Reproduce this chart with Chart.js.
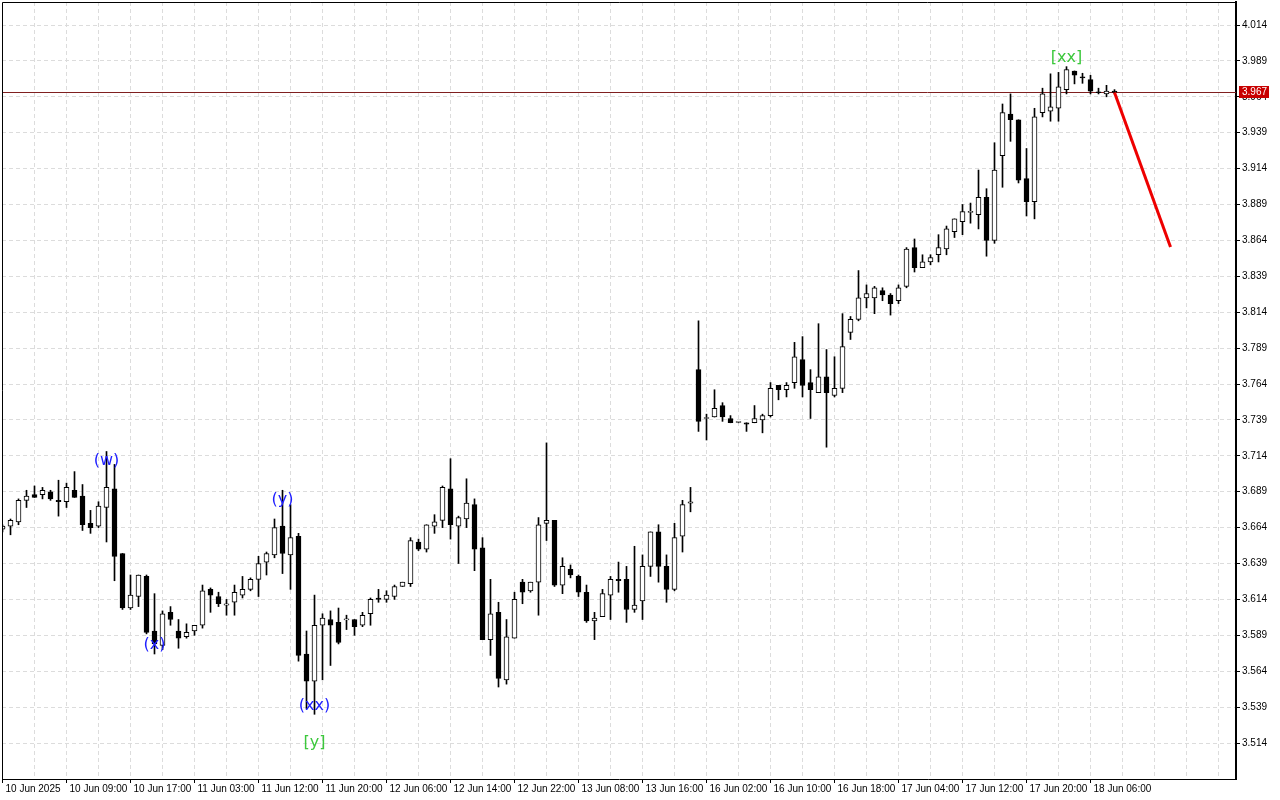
<!DOCTYPE html>
<html>
<head>
<meta charset="utf-8">
<script src="https://cdn.jsdelivr.net/npm/chart.js@4.4.1/dist/chart.umd.min.js"></script>
<style>
html, body { margin: 0; padding: 0; background: #fff; }
canvas { display: block; }
</style>
</head>
<body>
<canvas id="grafico" width="1280" height="800"></canvas>
<script>
// Velas de 1h (O / H / L / C)
const abertura = [
  3.663, 3.665, 3.668, 3.683, 3.687, 3.687, 3.689, 3.683, 3.682, 3.690,
  3.686, 3.667, 3.665, 3.678, 3.691, 3.646, 3.608, 3.616, 3.630, 3.592,
  3.582, 3.605, 3.592, 3.588, 3.592, 3.596, 3.621, 3.616, 3.610, 3.612,
  3.617, 3.621, 3.628, 3.640, 3.645, 3.665, 3.645, 3.658, 3.576, 3.557,
  3.596, 3.600, 3.598, 3.5998, 3.600, 3.596, 3.604, 3.615, 3.614, 3.616,
  3.623, 3.625, 3.654, 3.649, 3.665, 3.669, 3.691, 3.665, 3.670, 3.680,
  3.650, 3.586, 3.605, 3.558, 3.587, 3.626, 3.620, 3.626, 3.667, 3.669,
  3.624, 3.635, 3.630, 3.619, 3.599, 3.602, 3.617, 3.628, 3.628, 3.607,
  3.613, 3.637, 3.661, 3.637, 3.621, 3.658, 3.681, 3.774, 3.740, 3.741,
  3.749, 3.740, 3.7372, 3.737, 3.737, 3.739, 3.742, 3.763, 3.760, 3.765,
  3.781, 3.765, 3.758, 3.769, 3.756, 3.761, 3.800, 3.809, 3.824, 3.824,
  3.829, 3.826, 3.822, 3.832, 3.859, 3.845, 3.849, 3.854, 3.858, 3.870,
  3.877, 3.8835, 3.882, 3.894, 3.864, 3.923, 3.952, 3.948, 3.907, 3.891,
  3.953, 3.954, 3.956, 3.969, 3.982, 3.9774, 3.976, 3.967, 3.966, 3.968
];
const maxima = [
  3.666, 3.670, 3.684, 3.690, 3.693, 3.692, 3.690, 3.697, 3.695, 3.703,
  3.694, 3.676, 3.682, 3.717, 3.708, 3.646, 3.631, 3.631, 3.631, 3.618,
  3.606, 3.609, 3.600, 3.597, 3.596, 3.624, 3.622, 3.619, 3.614, 3.624,
  3.630, 3.629, 3.644, 3.647, 3.670, 3.690, 3.680, 3.660, 3.592, 3.617,
  3.604, 3.606, 3.608, 3.603, 3.600, 3.605, 3.615, 3.621, 3.620, 3.624,
  3.626, 3.657, 3.656, 3.666, 3.673, 3.693, 3.712, 3.672, 3.698, 3.684,
  3.657, 3.628, 3.612, 3.600, 3.619, 3.628, 3.626, 3.671, 3.723, 3.669,
  3.643, 3.638, 3.631, 3.624, 3.605, 3.621, 3.630, 3.640, 3.637, 3.651,
  3.645, 3.661, 3.666, 3.645, 3.667, 3.683, 3.692, 3.808, 3.743, 3.760,
  3.751, 3.742, 3.7374, 3.737, 3.749, 3.743, 3.765, 3.763, 3.765, 3.793,
  3.797, 3.774, 3.806, 3.788, 3.783, 3.813, 3.811, 3.843, 3.833, 3.832,
  3.831, 3.827, 3.833, 3.859, 3.865, 3.854, 3.854, 3.868, 3.874, 3.879,
  3.889, 3.890, 3.913, 3.900, 3.932, 3.959, 3.966, 3.948, 3.928, 3.956,
  3.970, 3.980, 3.981, 3.985, 3.982, 3.9804, 3.979, 3.970, 3.972, 3.969
];
const minima = [
  3.661, 3.659, 3.666, 3.678, 3.685, 3.684, 3.683, 3.672, 3.678, 3.685,
  3.662, 3.660, 3.664, 3.654, 3.627, 3.607, 3.607, 3.609, 3.590, 3.576,
  3.579, 3.596, 3.580, 3.587, 3.589, 3.594, 3.605, 3.609, 3.603, 3.603,
  3.615, 3.620, 3.616, 3.631, 3.643, 3.632, 3.621, 3.571, 3.538, 3.534,
  3.558, 3.568, 3.583, 3.593, 3.589, 3.595, 3.596, 3.612, 3.612, 3.614,
  3.623, 3.623, 3.648, 3.647, 3.660, 3.664, 3.656, 3.639, 3.664, 3.634,
  3.586, 3.575, 3.553, 3.555, 3.587, 3.611, 3.619, 3.603, 3.655, 3.623,
  3.618, 3.629, 3.616, 3.598, 3.586, 3.602, 3.600, 3.619, 3.598, 3.605,
  3.600, 3.630, 3.626, 3.612, 3.620, 3.647, 3.675, 3.731, 3.725, 3.741,
  3.738, 3.737, 3.7370, 3.731, 3.737, 3.730, 3.741, 3.753, 3.755, 3.761,
  3.755, 3.740, 3.758, 3.720, 3.755, 3.758, 3.795, 3.808, 3.817, 3.813,
  3.822, 3.812, 3.820, 3.831, 3.842, 3.845, 3.847, 3.849, 3.854, 3.866,
  3.868, 3.876, 3.872, 3.853, 3.862, 3.901, 3.933, 3.904, 3.881, 3.879,
  3.950, 3.947, 3.947, 3.966, 3.973, 3.9734, 3.966, 3.966, 3.964, 3.966
];
const fechamento = [
  3.665, 3.669, 3.683, 3.686, 3.685, 3.690, 3.684, 3.682, 3.692, 3.685,
  3.666, 3.664, 3.679, 3.692, 3.644, 3.608, 3.617, 3.631, 3.591, 3.583,
  3.604, 3.600, 3.587, 3.591, 3.596, 3.620, 3.617, 3.611, 3.611, 3.619,
  3.621, 3.628, 3.639, 3.646, 3.664, 3.646, 3.657, 3.575, 3.557, 3.596,
  3.601, 3.596, 3.584, 3.6002, 3.595, 3.603, 3.614, 3.614, 3.617, 3.623,
  3.626, 3.655, 3.649, 3.666, 3.668, 3.692, 3.666, 3.671, 3.681, 3.649,
  3.586, 3.604, 3.559, 3.588, 3.614, 3.619, 3.626, 3.666, 3.669, 3.624,
  3.637, 3.631, 3.619, 3.599, 3.601, 3.618, 3.628, 3.627, 3.607, 3.610,
  3.637, 3.661, 3.637, 3.621, 3.657, 3.680, 3.682, 3.738, 3.7401, 3.747,
  3.741, 3.737, 3.7372, 3.736, 3.740, 3.742, 3.761, 3.760, 3.763, 3.783,
  3.763, 3.760, 3.769, 3.758, 3.761, 3.790, 3.809, 3.824, 3.827, 3.831,
  3.826, 3.820, 3.831, 3.858, 3.845, 3.849, 3.852, 3.859, 3.872, 3.879,
  3.884, 3.8837, 3.894, 3.864, 3.913, 3.953, 3.948, 3.906, 3.891, 3.950,
  3.966, 3.957, 3.971, 3.983, 3.979, 3.9772, 3.968, 3.9668, 3.968, 3.967
];

// eixo de tempo: um rótulo a cada 8 velas
const rotulosTempo = [
  '10 Jun 2025', '10 Jun 09:00', '10 Jun 17:00', '11 Jun 03:00', '11 Jun 12:00',
  '11 Jun 20:00', '12 Jun 06:00', '12 Jun 14:00', '12 Jun 22:00', '13 Jun 08:00',
  '13 Jun 16:00', '16 Jun 02:00', '16 Jun 10:00', '16 Jun 18:00', '17 Jun 04:00',
  '17 Jun 12:00', '17 Jun 20:00', '18 Jun 06:00'
];
const precosEixo = [
  4.014, 3.989, 3.964, 3.939, 3.914, 3.889, 3.864, 3.839, 3.814, 3.789, 3.764,
  3.739, 3.714, 3.689, 3.664, 3.639, 3.614, 3.589, 3.564, 3.539, 3.514
];

// marcações de onda (índice da vela, preço)
const ondasTexto = ['(w)', '(x)', '(y)', '(xx)', '[y]', '[xx]'];
const ondasIndice = [13, 19, 35, 39, 39, 133];
const ondasPreco = [3.7104, 3.5823, 3.6833, 3.5398, 3.5140, 3.9910];

// projeção e preço atual
const projecaoIndice = [139, 146];
const projecaoPreco = [3.967, 3.8594];
const precoAtual = 3.967;

const pavios = abertura.map((o, i) => ({ x: i, y: [minima[i], maxima[i]] }));
const corpos = abertura.map((o, i) => ({ x: i, y: [o, fechamento[i]] }));
const corCorpo = abertura.map((o, i) => fechamento[i] >= o ? '#ffffff' : '#000000');
const projecao = projecaoIndice.map((v, k) => ({ x: v, y: projecaoPreco[k] }));
const gradeX = [];
for (let i = 0; i <= 152; i += 4) gradeX.push(i);

const fonteEixo = { family: 'Liberation Sans', size: 10 };
const temRotulo = v => v % 8 === 0 && v / 8 < rotulosTempo.length;

// linha do preço, moldura, ondas e etiqueta do preço no eixo
const pluginExtras = {
  id: 'extras',
  beforeDatasetsDraw(chart) {
    const { ctx, chartArea: a, scales: { y } } = chart;
    const py = Math.round(y.getPixelForValue(precoAtual)) + 0.5;
    ctx.save();
    ctx.strokeStyle = '#802020';
    ctx.lineWidth = 1;
    ctx.beginPath();
    ctx.moveTo(a.left, py);
    ctx.lineTo(a.right, py);
    ctx.stroke();
    ctx.restore();
  },
  afterDraw(chart) {
    const { ctx, chartArea: a, scales: { x, y } } = chart;
    ctx.save();
    ctx.strokeStyle = '#000';
    ctx.lineWidth = 1;
    ctx.beginPath();
    ctx.moveTo(a.left + 0.5, a.bottom);
    ctx.lineTo(a.left + 0.5, a.top + 0.5);
    ctx.lineTo(a.right, a.top + 0.5);
    ctx.stroke();

    ctx.font = '16px "DejaVu Sans"';
    ctx.textAlign = 'center';
    ctx.textBaseline = 'middle';
    ondasTexto.forEach((t, k) => {
      ctx.fillStyle = t.startsWith('[') ? '#3cc83c' : '#2020ff';
      ctx.fillText(t, x.getPixelForValue(ondasIndice[k]), y.getPixelForValue(ondasPreco[k]));
    });

    const py = Math.round(y.getPixelForValue(precoAtual));
    ctx.fillStyle = '#c80000';
    ctx.fillRect(y.left + 3, py - 6, 30, 12);
    ctx.fillStyle = '#fff';
    ctx.font = '10px "Liberation Sans"';
    ctx.textAlign = 'left';
    ctx.fillText(precoAtual.toFixed(3), y.left + 6, py + 0.5);
    ctx.restore();
  }
};

new Chart(document.getElementById('grafico'), {
  type: 'bar',
  data: {
    datasets: [
      { type: 'bar', data: pavios, backgroundColor: '#000', barThickness: 1, grouped: false, order: 3 },
      { type: 'bar', data: corpos, backgroundColor: corCorpo, borderColor: '#000', borderWidth: 1,
        borderSkipped: false, barThickness: 5, minBarLength: 1, grouped: false, order: 2 },
      { type: 'line', data: projecao, borderColor: '#ee0000', borderWidth: 3, pointRadius: 0, order: 1 }
    ]
  },
  options: {
    responsive: false,
    animation: false,
    devicePixelRatio: 1,
    layout: { padding: { left: 2, top: 2, right: 0, bottom: 0 } },
    plugins: { legend: { display: false }, tooltip: { enabled: false } },
    scales: {
      x: {
        type: 'linear', min: -0.0625, max: 154.1875, offset: false,
        afterBuildTicks: s => { s.ticks = gradeX.map(v => ({ value: v })); },
        afterFit: s => { s.height = 21; s.paddingLeft = 0; s.paddingRight = 0; },
        grid: {
          color: '#dcdcdc', offset: false, tickLength: 4,
          tickColor: c => (c.tick && temRotulo(c.tick.value)) ? '#000' : 'rgba(0,0,0,0)'
        },
        border: { display: true, color: '#000', width: 1, dash: [4, 3] },
        ticks: {
          autoSkip: false, maxRotation: 0, align: 'start', labelOffset: 3, padding: 0,
          color: '#000', font: fonteEixo,
          callback: v => temRotulo(v) ? rotulosTempo[v / 8] : ''
        }
      },
      y: {
        position: 'right', min: 3.48894, max: 4.03002,
        afterBuildTicks: s => { s.ticks = precosEixo.map(v => ({ value: v })); },
        afterFit: s => { s.width = 44; s.paddingTop = 0; s.paddingBottom = 0; },
        grid: { color: '#dcdcdc', tickLength: 4, tickColor: '#000' },
        border: { display: true, color: '#000', width: 2, dash: [4, 3] },
        ticks: { padding: 2, color: '#000', font: fonteEixo, callback: v => v.toFixed(3) }
      }
    }
  },
  plugins: [pluginExtras]
});
</script>
</body>
</html>
